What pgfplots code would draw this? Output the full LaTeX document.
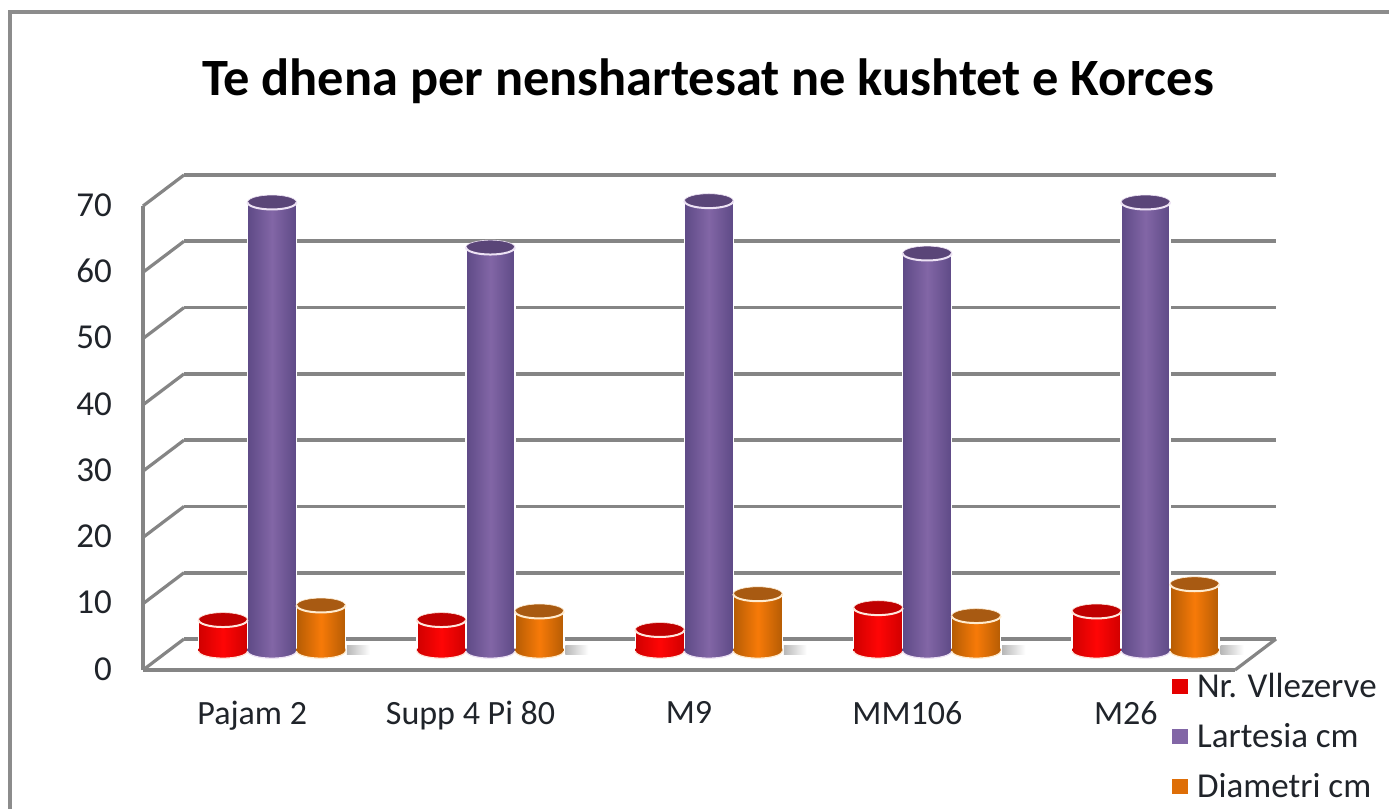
\documentclass[border=0pt]{standalone}
\usepackage{pgfplots}
\usepackage{pgfplotstable}
\usepackage{fontspec}
\setmainfont{Carlito}
\pgfplotsset{compat=1.18}
\definecolor{gridc}{HTML}{858585}
\definecolor{framec}{HTML}{8C8C8C}
\definecolor{txt}{HTML}{20242A}
\definecolor{redD}{HTML}{D00000}\definecolor{redM}{HTML}{FF0505}\definecolor{redT}{HTML}{C00000}\definecolor{redR}{HTML}{FFE6DC}
\definecolor{purD}{HTML}{5E4A86}\definecolor{purM}{HTML}{8266A6}\definecolor{purT}{HTML}{5A4578}\definecolor{purR}{HTML}{EDE2F4}
\definecolor{oraD}{HTML}{B55C04}\definecolor{oraM}{HTML}{F77A08}\definecolor{oraT}{HTML}{A85A12}\definecolor{oraR}{HTML}{FFEBCF}
\pgfplotstableread{
x nr lart diam
0 4.7 67.7 6.9
1 4.7 60.9 6.0
2 3.2 67.9 8.6
3 6.5 60.0 5.3
4 6.0 67.7 10.1
}\datatable
\newcommand\defcyl[5]{%
  \pgfdeclareplotmark{top#1}{%
    \path[draw=none,fill=#3] (0pt,0pt) ellipse [x radius=12.25pt,y radius=3.6pt];
    \path[draw=#4,fill=none,line width=.3pt] (0pt,0pt) ellipse [x radius=12.25pt,y radius=3.6pt];
    \path[draw=#4,fill=none,line width=1pt] (-12.25pt,0pt) arc [start angle=180,end angle=360,x radius=12.25pt,y radius=3.6pt];}%
  \pgfdeclareplotmark{base#1}{%
    \path[draw=none,left color=#5,right color=#5,middle color=#2] (-12.25pt,1.2pt) -- (-12.25pt,0pt) arc [start angle=180,end angle=360,x radius=12.25pt,y radius=3.6pt] -- (12.25pt,1.2pt) -- cycle;
    \path[draw=#4,fill=none,line width=.6pt] (-12.25pt,0pt) arc [start angle=180,end angle=360,x radius=12.25pt,y radius=3.6pt];}%
}
\defcyl{r}{redM}{redT}{redR}{redD}
\defcyl{p}{purM}{purT}{purR}{purD}
\defcyl{o}{oraM}{oraT}{oraR}{oraD}
\pgfdeclareplotmark{shad}{%
  \path[draw=none,left color=black!28,right color=white] (0pt,-2.2pt) rectangle (11.5pt,2.2pt);}
\newcommand\cyl[5]{% column, mark suffix, dark, mid, x offset
  \pgfplotsinvokeforeach{0,1,2,3,4}{
    \addplot[ybar,bar width=24.5pt,bar shift=0pt,draw=white,line width=.7pt,
      left color=#3,right color=#3,middle color=#4,xshift=#5,yshift=9.5pt,forget plot,
      restrict x to domain=##1:##1]
      table[x=x,y=#1]{\datatable};
  }
  \addplot[only marks,mark=base#2,xshift=#5,yshift=9.5pt,forget plot]
    table[x=x,y expr=0]{\datatable};
  \addplot[only marks,mark=top#2,xshift=#5,yshift=9.5pt,forget plot]
    table[x=x,y=#1]{\datatable};
}
\begin{document}
\begin{tikzpicture}[x=1pt,y=1pt]
\path[use as bounding box] (-71.5pt,-69.5pt) rectangle (623pt,335pt);
\fill[white] (-71.5pt,-69.5pt) rectangle (623pt,335pt);
\draw[framec,line width=2pt] (-66.5pt,-72pt) -- (-66.5pt,329pt) -- (626pt,329pt);
\begin{axis}[
  at={(0pt,0pt)},anchor=south west,
  scale only axis,width=546pt,height=232pt,
  xmin=-0.5,xmax=4.5,ymin=0,ymax=70,
  clip=false,
  axis x line*=bottom,axis y line*=left,
  axis line style={gridc,line width=1.8pt,-},
  major tick length=0pt,
  xtick={0,1,2,3,4},
  xticklabels={Pajam 2,Supp 4 Pi 80,M9,MM106,M26},
  ytick={0,10,20,30,40,50,60,70},
  tick label style={font=\fontsize{17.5}{18}\selectfont,text=txt},
  xticklabel style={yshift=-12pt,font=\fontsize{17}{18}\selectfont},
  yticklabel style={xshift=-12pt,yshift=0.5pt},
  /pgf/number format/assume math mode=true,
  title={\textbf{Te dhena per nenshartesat ne kushtet e Korces}},
  title style={at={(axis description cs:0.5174,1.213)},anchor=base,
    font=\fontsize{26.2}{30}\selectfont,text=black},
  legend cell align=left,
  legend columns=1,
  legend style={at={(axis description cs:0.9424,-0.002)},anchor=north west,
    draw=none,fill=none,inner sep=0pt,outer sep=0pt,
    row sep=9.5pt,
    font=\fontsize{17.5}{18}\selectfont,text=txt,
    nodes={inner sep=1pt}},
]
% back plane and side lines
\pgfplotsinvokeforeach{10,20,30,40,50,60,70}{
  \addplot[gridc,line width=1.8pt,xshift=20.5pt,yshift=15.5pt,forget plot]
    coordinates {(-0.5,#1) (4.5,#1)};
  \draw[gridc,line width=1.6pt] (axis cs:-0.5,#1) -- ++(20.5pt,15.5pt);
}
\addplot[gridc,line width=1.8pt,xshift=20.5pt,yshift=15.5pt,forget plot]
  coordinates {(-0.5,0) (4.5,0)};
\draw[gridc,line width=1.6pt] (axis cs:-0.5,0) -- ++(20.5pt,15.5pt);
\draw[gridc,line width=1.6pt] (axis cs:4.5,0) -- ++(20.5pt,15.5pt);
% floor shadow
\addplot[only marks,mark=shad,xshift=47.4pt,yshift=10pt,forget plot]
  table[x=x,y expr=0]{\datatable};
\cyl{nr}{r}{redD}{redM}{-14.6pt}
\cyl{lart}{p}{purD}{purM}{9.9pt}
\cyl{diam}{o}{oraD}{oraM}{34.4pt}
\addlegendimage{legend image code/.code={\path[draw=none,fill=red!90!black] (-4pt,-3.8pt) rectangle (4pt,3.8pt);}}
\addlegendentry{\hspace*{3.5pt}Nr. Vllezerve}
\addlegendimage{legend image code/.code={\path[draw=none,fill=purM] (-4pt,-3.8pt) rectangle (4pt,3.8pt);}}
\addlegendentry{\hspace*{3.5pt}Lartesia cm}
\addlegendimage{legend image code/.code={\path[draw=none,fill=oraM!90!black] (-4pt,-3.8pt) rectangle (4pt,3.8pt);}}
\addlegendentry{\hspace*{3.5pt}Diametri cm}
\end{axis}
\end{tikzpicture}
\end{document}
